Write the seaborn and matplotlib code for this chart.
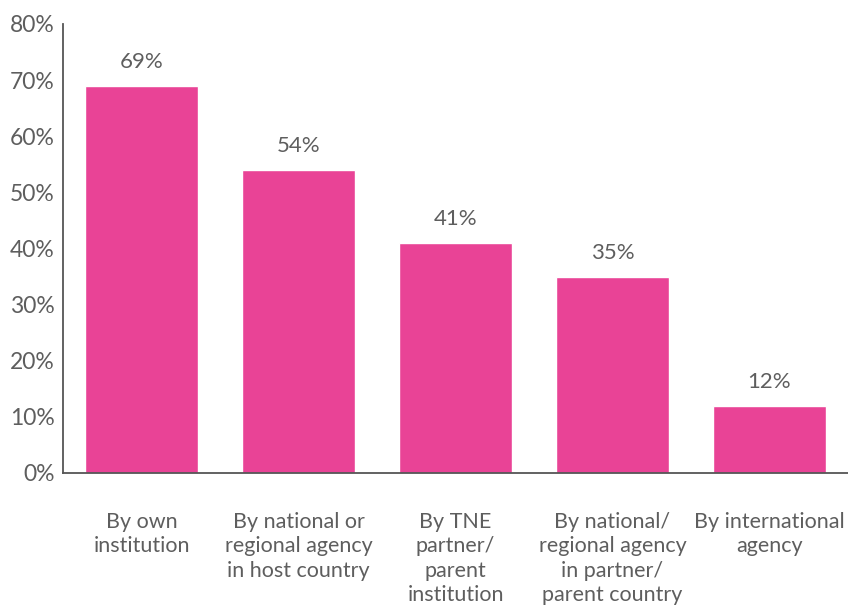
import matplotlib.pyplot as plt
import seaborn as sns
import pandas as pd
from matplotlib.ticker import FixedLocator

# datos del gráfico
categorias = ['By own\ninstitution',
              'By national or\nregional agency\nin host country',
              'By TNE\npartner/\nparent\ninstitution',
              'By national/\nregional agency\nin partner/\nparent country',
              'By international\nagency']
valores = [69, 54, 41, 35, 12]
yticks = [0, 10, 20, 30, 40, 50, 60, 70, 80]

df = pd.DataFrame({'cat': categorias, 'val': valores})

sns.set_style('white')
plt.rcParams['font.family'] = ['Lato', 'DejaVu Sans']
gris = '#5e5e5e'
peso = 'normal'

fig = plt.figure(figsize=(8.48, 6.06), dpi=100)
ax = fig.add_axes([0.0743, 0.2195, 0.9257, 0.7409])

sns.barplot(data=df, x='cat', y='val', color='#E94396', saturation=1,
            width=0.72, ax=ax)

# etiquetas de valor
for i, v in enumerate(valores):
    ax.annotate(f'{v}%', (i, v), xytext=(0, 10), textcoords='offset points',
                ha='center', va='bottom', fontsize=16, color=gris,
                fontweight=peso)

ax.set_xlim(-0.5, 4.5)
ax.set_ylim(0, 80)
ax.set_yticks(yticks)
ax.set_yticklabels([f'{t}%' for t in yticks], fontsize=16.5, color=gris,
                   fontweight=peso)
ax.set_xticks(range(len(categorias)))
ax.set_xticklabels(categorias, fontsize=15.5, color=gris, fontweight=peso,
                   linespacing=1.27, va='top')
ax.xaxis.set_minor_locator(FixedLocator([0.5, 1.5, 2.5, 3.5]))
ax.set_xlabel('')
ax.set_ylabel('')

ax.tick_params(axis='x', which='major', length=0, pad=28)
ax.tick_params(axis='x', which='minor', direction='in', length=9,
               width=1.2, color='#555555')
ax.tick_params(axis='y', direction='in', length=14, width=1.2,
               color='#555555', pad=6)

for s in ['top', 'right']:
    ax.spines[s].set_visible(False)
for s in ['left', 'bottom']:
    ax.spines[s].set_color('#555555')
    ax.spines[s].set_linewidth(1.3)

fig.savefig('out.png', dpi=100)
